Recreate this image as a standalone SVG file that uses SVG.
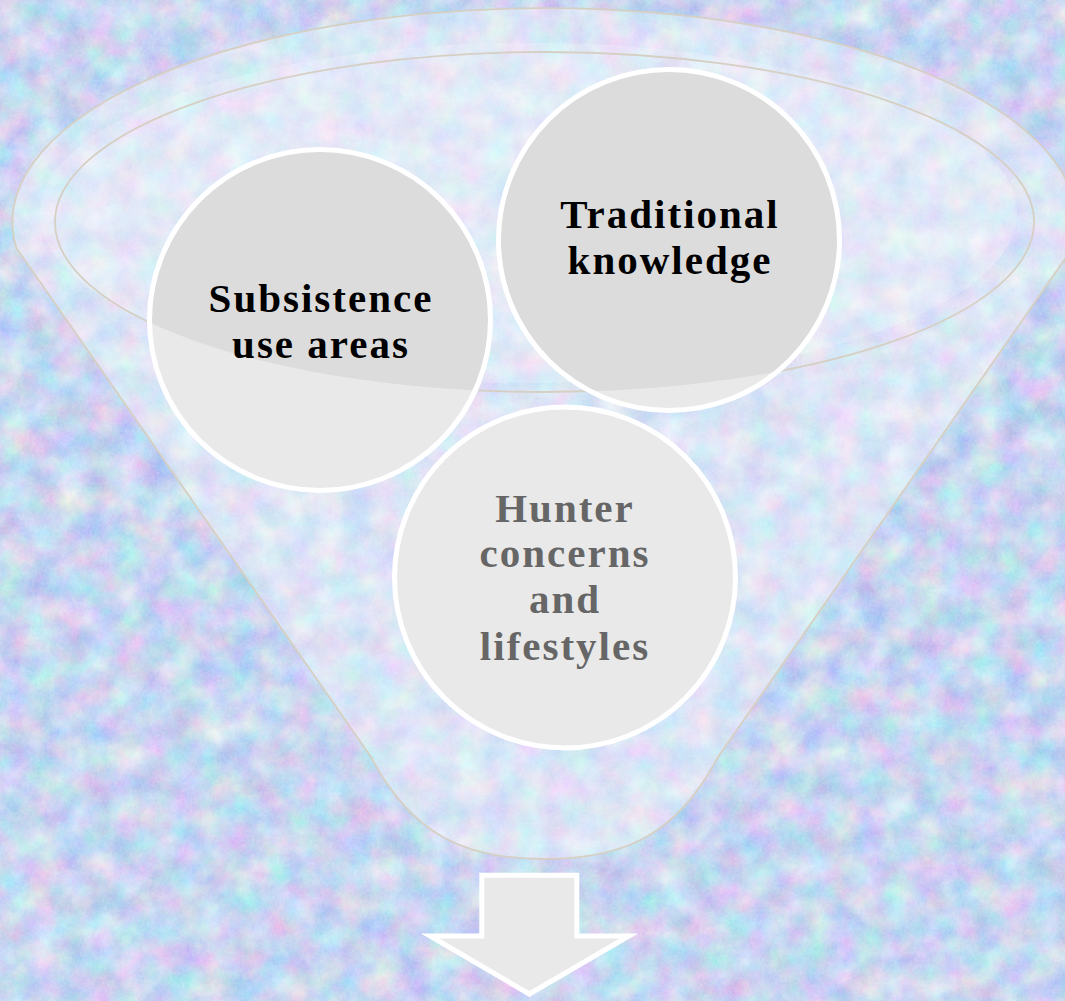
<svg xmlns="http://www.w3.org/2000/svg" width="1065" height="1001" viewBox="0 0 1065 1001">
  <defs>
    <filter id="tex" filterUnits="userSpaceOnUse" x="0" y="0" width="1065" height="1001" color-interpolation-filters="sRGB">
      <feTurbulence type="fractalNoise" baseFrequency="0.035" numOctaves="4" seed="11" result="n"/>
      <feColorMatrix in="n" type="matrix" values="0.42 0 0 0 0.56  0 0.32 0 0 0.67  0 0 0.14 0 0.87  0 0 0 0 1" result="c"/>
      <feTurbulence type="fractalNoise" baseFrequency="0.4" numOctaves="1" seed="3" result="g"/>
      <feColorMatrix in="g" type="matrix" values="0 0 0 0 1  0 0 0 0 1  0 0 0 0 1  0.3 0 0 0 -0.08" result="gw"/>
      <feComposite in="gw" in2="c" operator="over"/>
    </filter>
    <clipPath id="circ">
      <circle cx="320" cy="320" r="168"/>
      <circle cx="669" cy="240" r="168"/>
      <circle cx="565" cy="577.5" r="168"/>
    </clipPath>
    <style>
      .edge { fill: none; stroke: #d6cfc3; stroke-width: 1.8; }
      .node { fill: #e9e9e9; stroke: #ffffff; stroke-width: 5; }
      .lbl { font-family: "Liberation Serif", "Times New Roman", serif; font-weight: bold; font-size: 41px; letter-spacing: 2px; text-anchor: middle; }
      .dark { fill: #000000; }
      .grey { fill: #666666; }
    </style>
  </defs>

  <rect x="0" y="0" width="1065" height="1001" fill="#c8d6f2"/>
  <rect x="0" y="0" width="1065" height="1001" filter="url(#tex)"/>

  <g id="funnel">
    <path d="M 16.4 248 A 532 214 0 1 1 1072.6 248 L 718 757 C 677 835 624 859 544.5 859 C 465 859 412 835 371 757 Z" class="edge" style="fill:#ffffff;fill-opacity:0.36"/>
    <ellipse cx="528.5" cy="213" rx="488.5" ry="170" fill="#ffffff" fill-opacity="0.2"/>
    <ellipse cx="544.5" cy="222" rx="489.5" ry="170" class="edge"/>
  </g>

  <g id="node-subsistence">
    <circle cx="320" cy="320" r="170.5" class="node"/>
    <text class="lbl dark" x="321" y="312">Subsistence</text>
    <text class="lbl dark" x="321" y="358">use areas</text>
  </g>

  <g id="node-traditional">
    <circle cx="669" cy="240" r="170.5" class="node"/>
    <text class="lbl dark" x="670" y="228">Traditional</text>
    <text class="lbl dark" x="670" y="274">knowledge</text>
  </g>

  <g id="node-hunter">
    <circle cx="565" cy="577.5" r="170.5" class="node"/>
    <text class="lbl grey" x="565" y="522">Hunter</text>
    <text class="lbl grey" x="565" y="567">concerns</text>
    <text class="lbl grey" x="565" y="613">and</text>
    <text class="lbl grey" x="565" y="660">lifestyles</text>
  </g>

  <g id="funnel-rim-overlay">
    <ellipse cx="544.5" cy="222" rx="489.5" ry="170" fill="#000000" fill-opacity="0.055" clip-path="url(#circ)"/>
  </g>

  <g id="connectors">
    <path d="M 481.8 875.2 H 576.8 V 936 H 629 L 529.3 994 L 430 936 H 481.8 Z" fill="#e9e9e9" stroke="#ffffff" stroke-width="5" stroke-linejoin="miter"/>
  </g>
</svg>
